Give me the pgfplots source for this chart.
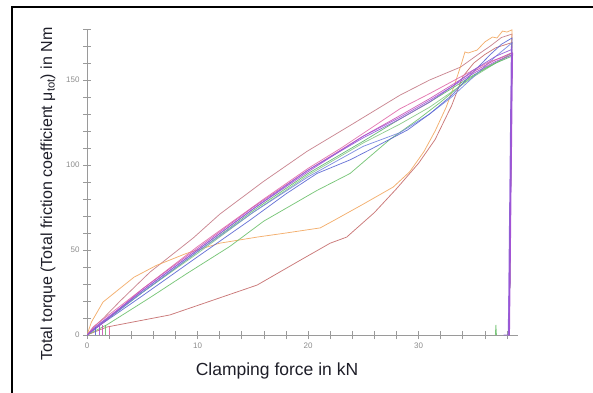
\documentclass[border=0pt]{standalone}
\usepackage{pgfplots}
\pgfplotsset{compat=1.18}
\usepackage{fontspec}
\setmainfont{Liberation Sans}
\definecolor{axgray}{HTML}{9A9A9A}
\definecolor{lblgray}{HTML}{8C8C8C}
\definecolor{txt}{HTML}{1E1E28}
\definecolor{cmauve}{HTML}{C47A86}
\definecolor{corange}{HTML}{F2A65E}
\definecolor{cbrown}{HTML}{C46A6A}
\definecolor{cpink}{HTML}{E06AA8}
\definecolor{cpurple}{HTML}{A452D6}
\definecolor{cgreen}{HTML}{6CC06C}
\definecolor{cblue}{HTML}{5A66D2}
\definecolor{cblueb}{HTML}{7585E0}
\definecolor{cgreenb}{HTML}{5FB56F}
\definecolor{cmag}{HTML}{C955B5}
\definecolor{cviolet}{HTML}{8F5BD8}
\definecolor{cgreenc}{HTML}{86C886}
\begin{document}
\begin{tikzpicture}[x=1pt,y=1pt]
\begin{axis}[
  at={(87pt,57pt)}, anchor=south west, scale only axis,
  width=431pt, height=306pt,
  xmin=0, xmax=39, ymin=0, ymax=180,
  axis lines=left,
  axis line style={-, color=axgray, line width=0.7pt},
  xtick={0,10,20,30}, ytick={0,50,100,150},
  minor xtick={2,4,...,38}, minor ytick={10,20,...,180},
  tick align=center, major tick length=8pt, minor tick length=8pt,
  tick style={color=axgray, line width=0.6pt},
  ticklabel style={font=\fontsize{8}{9}\selectfont, text=lblgray},
  /pgf/number format/assume math mode=true,
  every axis plot/.append style={line width=0.75pt, opacity=0.9, no markers},
]
% top mauve
\addplot[cmauve] coordinates {(0,0) (0.5,4) (1.5,10) (3,20) (5.7,37) (9.6,57) (12,71) (15.9,90) (19.9,108) (24,124) (28.3,141) (31,150) (33.8,157.6) (35.6,166) (36.5,170) (37.5,175) (38.45,177) (38.2,0)};
% orange
\addplot[corange] coordinates {(0,0) (0.4,7.6) (1.45,19.4) (4.25,34) (6.3,41) (9,48) (12,54) (15.4,57.6) (18,60) (21.1,63) (22.4,67.6) (25,77) (27.7,87) (29.2,96) (30.5,108) (31.5,120) (32.5,134) (33.3,148) (33.9,160) (34.2,166.5) (34.5,165.9) (35.3,167.6) (36.0,172.4) (36.7,175.3) (37.1,174.7) (37.6,178.8) (38.0,178.2) (38.45,179.5) (38.2,0)};
% brown lower
\addplot[cbrown] coordinates {(0,0) (1.8,4.7) (7.5,11.8) (15.4,29.4) (19.3,44) (22,54) (23.5,57.6) (26,72) (28,86) (30,101) (31.5,115) (33,135) (34,152) (35,160) (36,165) (37,169) (38.45,172) (38.2,0)};
% bundle
\addplot[cgreen] coordinates {(0,0) (1.8,6) (5.7,22) (9,36) (12.9,52) (16,67) (20.8,85) (23.8,95) (27.4,115) (30,127) (32,137) (34,148) (36,157) (37.5,162) (38.45,166) (38.2,0)};
\addplot[cgreenc] coordinates {(0,0) (1.1,6) (5,25) (10,48) (15,72) (20,94) (25,113) (28.3,124) (31,134) (33,143) (35,152) (37,160) (38.45,165) (38.2,0)};
\addplot[cgreenb] coordinates {(0,0) (1.2,6) (5,25) (10,49) (15,73) (20,95) (25,114) (28.3,127) (31,137) (33,145) (35,153) (37,160) (38.45,164) (38.2,0)};
\addplot[cblueb] coordinates {(0,0) (1,6) (3,15) (5,25) (10,49) (15,72) (20,93) (25,111) (28.3,119) (31,130) (33,140) (35,152) (37,164) (38.45,171.8) (38.2,0)};
\addplot[cblue] coordinates {(0,0) (1,5) (3,14) (5,23) (10,46) (14.75,67.6) (18,83) (20.8,95) (23.8,103) (25.6,109) (29,120.6) (31,130) (33,141) (35,155) (36.5,165) (37.5,171) (38.45,174.7) (38.2,0)};
\addplot[cpink] coordinates {(0,0) (0.6,5) (2,12) (5,27) (8,42) (10,52) (13,66) (16,80) (20,98) (23,110) (26,123) (28.3,133) (31,142) (33,149) (35,156) (36.5,161) (37.5,163) (38.45,166) (38.2,0)};
\addplot[cmag] coordinates {(0,0) (1.4,7) (5,27) (10,51) (15,75) (20,97) (25,117) (28.3,129) (31,139) (33,147) (35,155) (37,162) (38.45,166) (38.2,0)};
\addplot[cpurple] coordinates {(0,0) (0.8,5) (2,11) (5,26) (10,50) (15,74) (20,96) (25,117) (28.3,128) (31,138) (33,146) (35,154) (37,161) (38.45,164.7) (38.2,0)};
\addplot[cviolet] coordinates {(0,0) (1,5) (5,26) (10,50) (15,74) (20,97) (25,116) (28.3,127) (31,137) (33,146) (35,156) (37,164) (38.45,168) (38.2,0) (37.7,0)};
% small start segments
\addplot[cblue] coordinates {(0.8,0) (0.8,5)};
\addplot[cpurple] coordinates {(1.1,0) (1.1,6)};
\addplot[cmag] coordinates {(1.4,0) (1.4,6)};
\addplot[cgreen] coordinates {(1.7,0) (1.7,6)};
\addplot[cpink] coordinates {(2.0,0) (2.0,5)};
% green spike
\addplot[cgreen] coordinates {(36.95,0) (37.0,6) (37.05,0)};
% unloading drops drawn over each other
\addplot[cpurple, line width=1.1pt] coordinates {(38.5,166) (38.22,0)};
\addplot[cviolet, line width=0.9pt] coordinates {(38.4,170) (38.12,0)};
\end{axis}
\node[rotate=90, anchor=base, text=txt, font=\fontsize{16}{18}\selectfont] at (52,198) {Total torque (Total friction coefficient μ\textsubscript{tot}) in Nm};
\node[anchor=base, text=txt, font=\fontsize{17.5}{20}\selectfont] at (277,17) {Clamping force in kN};
\draw[line width=2.2pt] (12,-20) rectangle (620,385);
\pgfresetboundingbox
\useasboundingbox (0,0) rectangle (593,392);
\end{tikzpicture}
\end{document}
